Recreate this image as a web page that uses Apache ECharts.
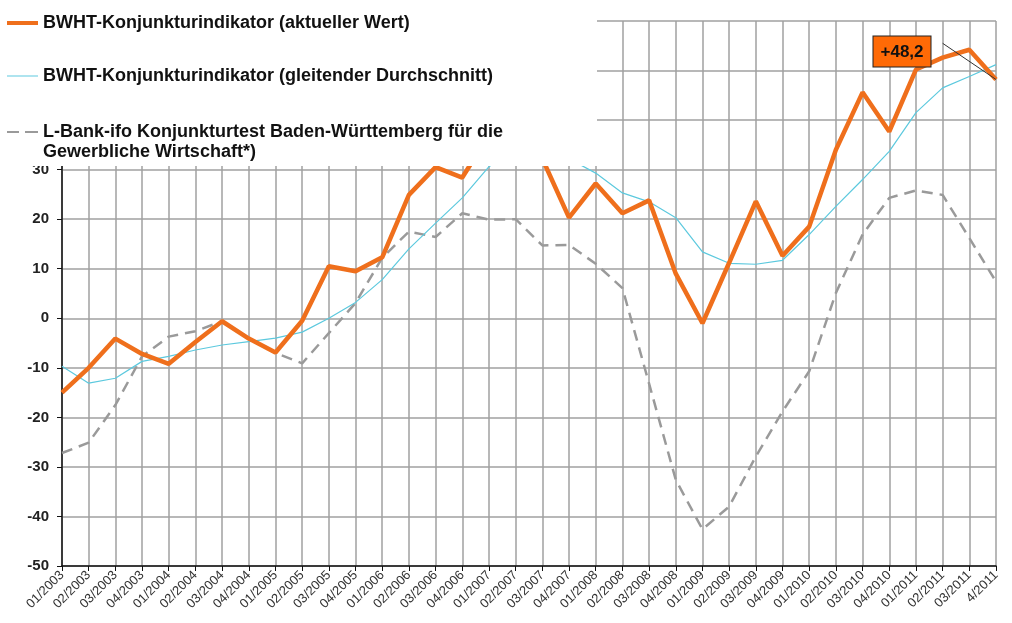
<!DOCTYPE html>
<html>
<head>
<meta charset="utf-8">
<script src="https://cdn.jsdelivr.net/npm/echarts@6/dist/echarts.min.js"></script>
<style>
  html, body { margin: 0; padding: 0; background: #fff; }
  #chart { width: 1012px; height: 623px; }
</style>
</head>
<body>
<div id="chart"></div>
<script>
// quarters 01/2003 .. 4/2011
const quarters = [
  '01/2003', '02/2003', '03/2003', '04/2003',
  '01/2004', '02/2004', '03/2004', '04/2004',
  '01/2005', '02/2005', '03/2005', '04/2005',
  '01/2006', '02/2006', '03/2006', '04/2006',
  '01/2007', '02/2007', '03/2007', '04/2007',
  '01/2008', '02/2008', '03/2008', '04/2008',
  '01/2009', '02/2009', '03/2009', '04/2009',
  '01/2010', '02/2010', '03/2010', '04/2010',
  '01/2011', '02/2011', '03/2011', '4/2011'
]

// BWHT-Konjunkturindikator, aktueller Wert
const aktuell = [
  -15, -10, -4.1, -7.2, -9.2, -4.8, -0.6, -4.1,
  -6.9, -0.5, 10.5, 9.5, 12.3, 24.9, 30.5, 28.4,
  37, 39.5, 32.2, 20.3, 27.2, 21.2, 23.8, 9.0,
  -1.0, 11.2, 23.6, 12.6, 18.5, 34.0, 45.6, 37.7,
  50.2, 52.6, 54.2, 48.2
]

// BWHT-Konjunkturindikator, gleitender Durchschnitt
const gleitend = [
  -9.7, -13.1, -12.1, -8.7, -7.7, -6.4, -5.4, -4.7,
  -4.0, -2.8, 0.0, 3.2, 7.8, 14.0, 19.2, 24.3,
  30.6, 34.5, 34.2, 32.2, 29.3, 25.3, 23.5, 20.3,
  13.4, 11.1, 10.9, 11.7, 16.9, 22.6, 28.0, 33.7,
  41.5, 46.5, 48.8, 51.2
]

// L-Bank-ifo Konjunkturtest
const ifo = [
  -27.2, -25.1, -17.5, -7.7, -3.7, -2.6, -0.6, -4.0,
  -7.0, -9.1, -3.0, 3.1, 12.2, 17.5, 16.4, 21.2,
  19.9, 20.0, 14.7, 14.8, 11.0, 6.1, -13.2, -32.6,
  -42.6, -38.0, -27.9, -18.8, -10.7, 5.1, 16.9, 24.3,
  25.8, 24.9, 16.2, 7.4
]

const names = [
  'BWHT-Konjunkturindikator (aktueller Wert)',
  'BWHT-Konjunkturindikator (gleitender Durchschnitt)',
  'L-Bank-ifo Konjunkturtest Baden-Württemberg für die Gewerbliche Wirtschaft*)'
]

const lastIdx = aktuell.length - 1
const aktuellData = aktuell.map((v, i) => i === lastIdx ? {
  value: v,
  label: {
    show: true,
    formatter: '+48,2',
    fontSize: 17,
    fontWeight: 'bold',
    color: '#111',
    backgroundColor: '#ff6a06',
    borderColor: '#222',
    borderWidth: 1,
    padding: [7, 7, 6, 7]
  }
} : v)

const legendText = { fontSize: 18, fontWeight: 'bold', color: '#111', fontFamily: 'Liberation Sans, Arial, sans-serif' }
const legendBase = { left: 7, padding: 0, itemWidth: 31, itemGap: 0, z: 60, selectedMode: false, textStyle: legendText }

const chart = echarts.init(document.getElementById('chart'))
chart.setOption({
  backgroundColor: '#fff',
  animation: false,
  textStyle: { fontFamily: 'Liberation Sans, Arial, sans-serif' },
  grid: { left: 62, right: 16, top: 21, bottom: 57 },
  graphic: [{
    type: 'rect', z: 50,
    shape: { x: 0, y: 0, width: 597, height: 166 },
    style: { fill: '#fff' }
  }],
  title: {
    text: 'Gewerbliche Wirtschaft*)',
    left: 43, top: 143, padding: 0, z: 60,
    textStyle: legendText
  },
  legend: [
    Object.assign({}, legendBase, {
      data: [names[0]], top: 14, itemHeight: 4.5,
      icon: 'path://M0,0H31V4H0Z'
    }),
    Object.assign({}, legendBase, {
      data: [names[1]], top: 67, itemHeight: 1.3,
      icon: 'path://M0,0H31V1H0Z'
    }),
    Object.assign({}, legendBase, {
      data: [names[2]], top: 123, itemHeight: 2.5,
      icon: 'path://M0,0H12V2H0Z M18,0H31V2H18Z',
      formatter: () => 'L-Bank-ifo Konjunkturtest Baden-Württemberg für die'
    })
  ],
  xAxis: {
    type: 'category',
    data: quarters,
    boundaryGap: false,
    axisLine: { onZero: false, lineStyle: { color: '#111', width: 1.5 } },
    axisTick: { show: true, length: 5, interval: 0, lineStyle: { color: '#111' } },
    axisLabel: { interval: 0, rotate: 45, fontSize: 13, color: '#333', margin: 7 },
    splitLine: { show: true, interval: 0, lineStyle: { color: '#a0a0a0', width: 1.5 } }
  },
  yAxis: {
    type: 'value',
    min: -50, max: 60, interval: 10,
    axisLine: { show: true, lineStyle: { color: '#111', width: 1.5 } },
    axisTick: { show: true, length: 5, lineStyle: { color: '#111' } },
    axisLabel: { fontSize: 15, fontWeight: 'bold', color: '#222', margin: 13 },
    splitLine: { show: true, lineStyle: { color: '#a0a0a0', width: 1.5 } }
  },
  series: [
    {
      name: names[2], type: 'line', data: ifo, symbol: 'none', z: 2,
      lineStyle: { color: '#9a9a9a', width: 2.5, type: [11, 7] },
      itemStyle: { color: '#9a9a9a' }
    },
    {
      name: names[1], type: 'line', data: gleitend, symbol: 'none', z: 3,
      lineStyle: { color: '#5cc9de', width: 1.2 },
      itemStyle: { color: '#5cc9de' }
    },
    {
      name: names[0], type: 'line', data: aktuellData, z: 4,
      symbol: 'circle', symbolSize: 0, showSymbol: true,
      lineStyle: { color: '#ef6f1c', width: 4.5 },
      itemStyle: { color: '#ef6f1c' },
      label: { show: false },
      labelLayout: p => p.dataIndex === lastIdx ? { dx: -94, dy: -8 } : {},
      // thin leader from the value box to the last point
      markLine: {
        silent: true,
        symbol: ['none', 'none'],
        label: { show: false },
        lineStyle: { color: '#333', width: 1, type: 'solid' },
        data: [[
          { coord: [quarters[lastIdx - 2], 55.5] },
          { coord: [quarters[lastIdx], aktuell[lastIdx]] }
        ]]
      }
    }
  ]
})
</script>
</body>
</html>
